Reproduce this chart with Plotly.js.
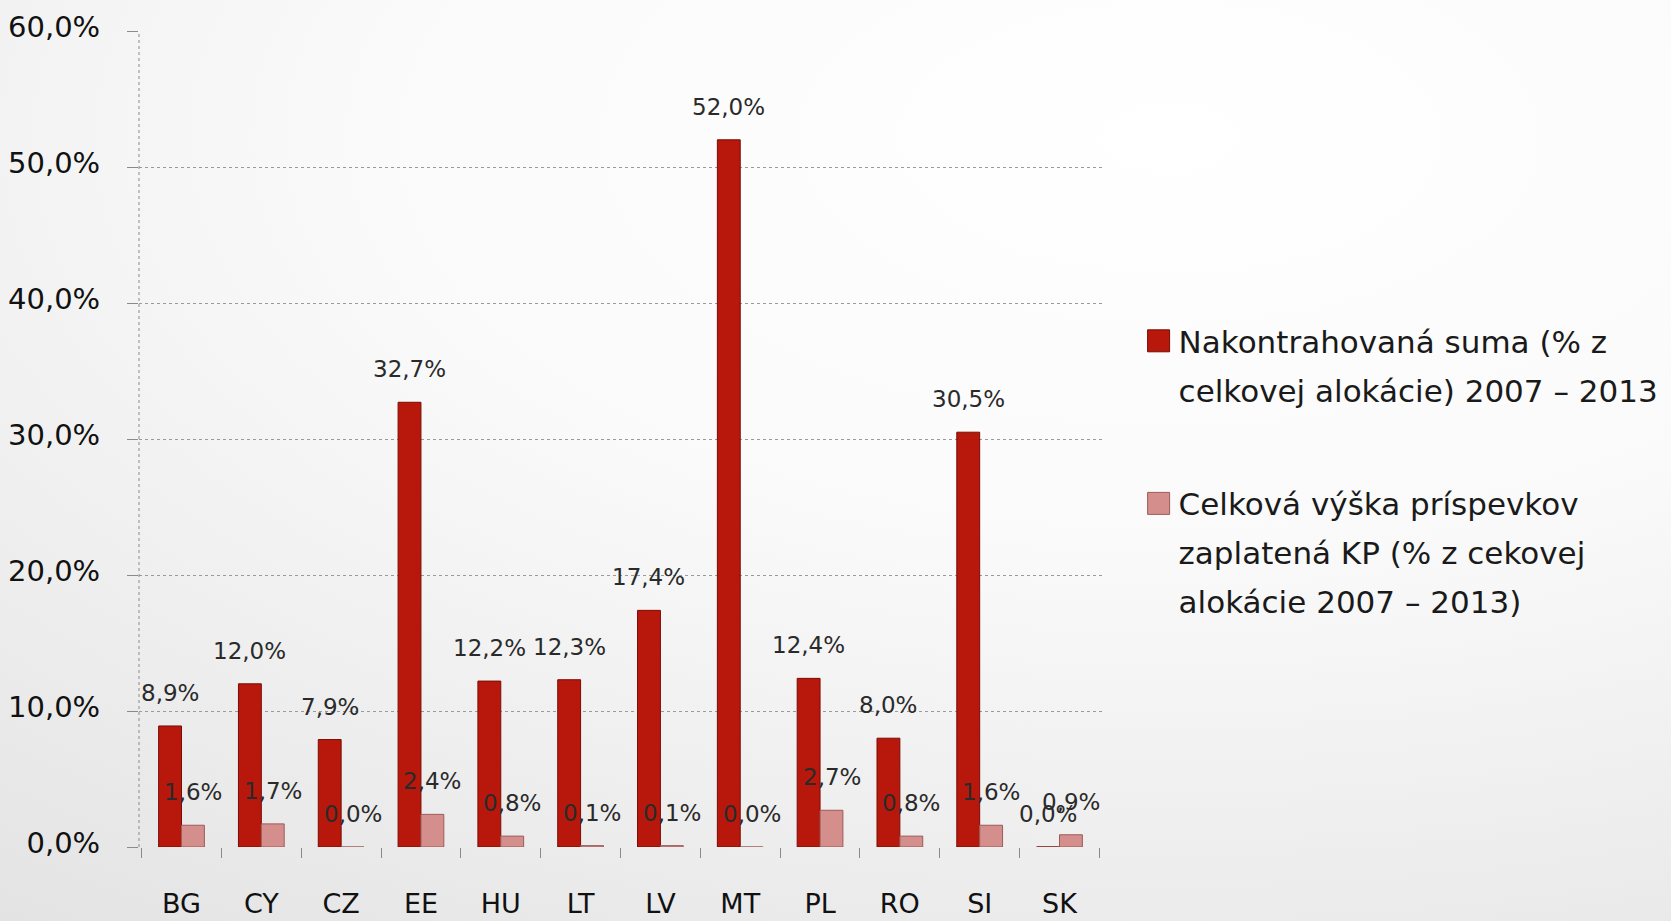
<!DOCTYPE html>
<html>
<head>
<meta charset="utf-8">
<script src="https://cdn.plot.ly/plotly-3.0.1.min.js"></script>
<style>
  html, body { margin: 0; padding: 0; }
  body {
    width: 1671px; height: 921px; overflow: hidden;
    background: radial-gradient(ellipse 120% 110% at 70% 15%, #ffffff 0%, #fafafa 40%, #ececec 75%, #e2e2e2 100%);
  }
  #chart { width: 1671px; height: 921px; }
</style>
</head>
<body>
<div id="chart"></div>
<script>
// ---- data ----
const categories = ['BG', 'CY', 'CZ', 'EE', 'HU', 'LT', 'LV', 'MT', 'PL', 'RO', 'SI', 'SK'];
const contracted = [8.9, 12.0, 7.9, 32.7, 12.2, 12.3, 17.4, 52.0, 12.4, 8.0, 30.5, 0.0];
const paid = [1.6, 1.7, 0.0, 2.4, 0.8, 0.1, 0.1, 0.0, 2.7, 0.8, 1.6, 0.9];
const seriesNames = [
  'Nakontrahovaná suma (% z<br>celkovej alokácie) 2007 – 2013',
  'Celková výška príspevkov<br>zaplatená KP (% z cekovej<br>alokácie 2007 – 2013)'
];
const yTicks = [0, 10, 20, 30, 40, 50, 60];

const FONT = 'DejaVu Sans, sans-serif';
const fmt = v => v.toFixed(1).replace('.', ',') + '%';

const traces = [
  {
    type: 'bar', x: categories, y: contracted, name: seriesNames[0],
    legendgroup: 'a',
    marker: { color: '#b8180b', line: { color: '#7a0b05', width: 1 } },
    hoverinfo: 'skip'
  },
  {
    type: 'bar', x: categories, y: paid, name: seriesNames[1],
    legendgroup: 'b',
    marker: { color: '#d48e8c', line: { color: '#9c5c5a', width: 1 } },
    hoverinfo: 'skip'
  }
];

const annotations = [];
[contracted, paid].forEach((vals, s) => {
  vals.forEach((v, i) => {
    annotations.push({
      x: categories[i], y: v, xref: 'x', yref: 'y',
      text: fmt(v), showarrow: false,
      xanchor: 'center', yanchor: 'middle',
      xshift: s === 0 ? -11.5 : 11.5, yshift: 33,
      font: { family: FONT, size: 23, color: '#2a2a2a' }
    });
  });
});

const layout = {
  width: 1671, height: 921,
  paper_bgcolor: 'rgba(0,0,0,0)',
  plot_bgcolor: 'rgba(0,0,0,0)',
  margin: { l: 139, r: 569, t: 31, b: 74, autoexpand: false },
  separators: ', ',
  barmode: 'group',
  bargap: 0.427,
  bargroupgap: 0,
  font: { family: FONT, color: '#1a1a1a' },
  showlegend: true,
  legend: {
    x: 1.038, xanchor: 'left', y: 0.653, yanchor: 'top',
    valign: 'top', tracegroupgap: 79,
    bgcolor: 'rgba(0,0,0,0)',
    font: { family: FONT, size: 31, color: '#1a1a1a' }
  },
  xaxis: {
    type: 'category',
    tickson: 'boundaries',
    ticks: 'outside', ticklen: 10, tickcolor: '#8a8a8a', tickwidth: 1,
    showgrid: false, showline: false, zeroline: false,
    ticklabelstandoff: 38,
    tickfont: { family: FONT, size: 27, color: '#111' }
  },
  yaxis: {
    range: [0, 60],
    tickmode: 'array',
    tickvals: yTicks,
    ticktext: yTicks.map(fmt),
    ticks: 'outside', ticklen: 11, tickcolor: '#8a8a8a', tickwidth: 1,
    showgrid: true, gridcolor: '#9a9a9a', griddash: 'dot', gridwidth: 1,
    zeroline: false, showline: false,
    ticklabelstandoff: 21,
    ticklabelshift: -4,
    tickfont: { family: FONT, size: 29, color: '#111' }
  },
  shapes: [
    { type: 'line', xref: 'paper', yref: 'paper', x0: 0, x1: 0, y0: 0, y1: 1,
      line: { color: '#8a8a8a', width: 1, dash: 'dot' } }
  ],
  annotations: annotations
};

function tweakLegend() {
  const gd = document.getElementById('chart');
  gd.querySelectorAll('.legend .legendpoints path').forEach(p => {
    p.setAttribute('d', 'M11,11H-11V-11H11Z');
  });
  gd.querySelectorAll('.legend text.legendtext tspan.line').forEach(t => {
    if (t.dataset.adj) return;
    const dy = t.getAttribute('dy');
    const v = dy ? parseFloat(dy) : 0;
    if (v !== 0) t.setAttribute('dy', (v * 1.58 / 1.3).toFixed(3) + 'em');
    t.dataset.adj = '1';
  });
  gd.querySelectorAll('.legend [clip-path]').forEach(el => el.removeAttribute('clip-path'));
  gd.querySelectorAll('.legend .bg').forEach(el => el.setAttribute('height', '400'));
}

Plotly.newPlot('chart', traces, layout, { displayModeBar: false, staticPlot: true }).then(() => {
  tweakLegend();
});
</script>
</body>
</html>
